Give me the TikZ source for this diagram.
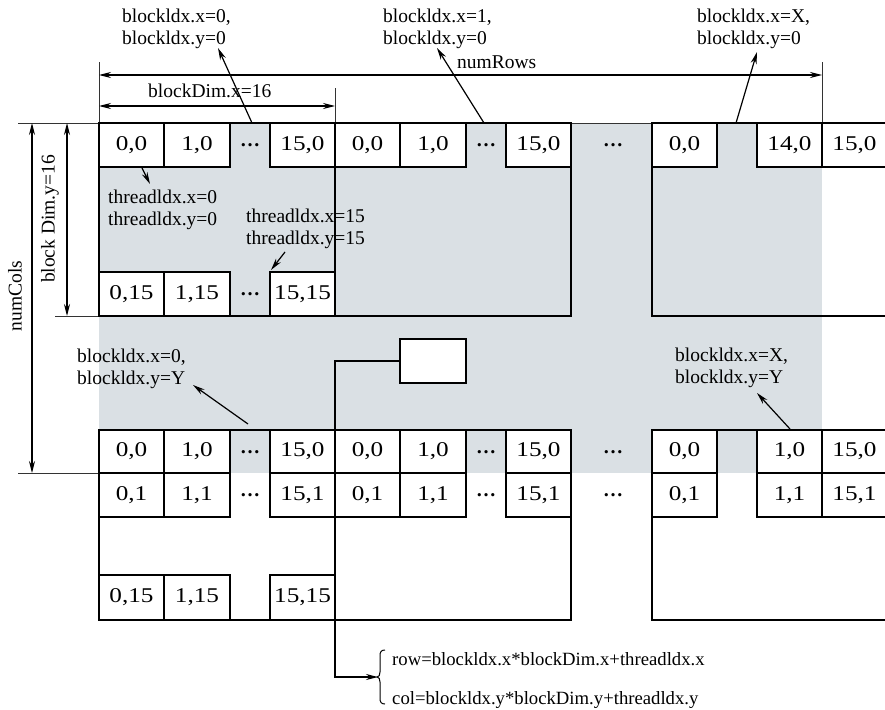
\documentclass[tikz,border=0pt]{standalone}
\usepackage{fontspec}
\setmainfont{Liberation Serif}
\newfontfamily\cellfont[FakeStretch=1.2]{Liberation Serif}
\usetikzlibrary{arrows.meta}
\definecolor{gridbg}{RGB}{218,224,228}

% one thread cell: name, left, right, top, bottom, text
\newcommand\cellbox[6]{%
  \node[cell, minimum width={#3-#2}, minimum height={#5-#4}] (#1) at ({(#2+#3)/2},{(#4+#5)/2}) {#6};}
% ellipsis marker: name, x, y
\newcommand\skipmark[3]{\node[dots] (#1) at (#2,#3) {\textbf{\char"2026}};}

\begin{document}
\begin{tikzpicture}[x=1pt,y=-1pt,
  cell/.style={draw=black, fill=white, line width=1.6pt, inner sep=0pt,
    font=\cellfont\fontsize{21}{21}\selectfont},
  blk/.style={draw=black, line width=1.6pt},
  lbl/.style={font=\fontsize{19.5}{21.5}\selectfont, align=left, inner sep=0pt},
  fml/.style={font=\fontsize{18.7}{21}\selectfont, inner sep=0pt},
  ptr/.style={line width=1.2pt, -{Stealth[length=12pt,width=6pt]}},
  dimline/.style={line width=1.2pt, {Stealth[length=12pt,width=6pt]}-{Stealth[length=12pt,width=6pt]}},
  ext/.style={line width=0.8pt, draw=black!80},
  dots/.style={font=\fontsize{20}{20}\selectfont, inner sep=0pt}
]
\useasboundingbox (0,0) rectangle (885,709);

% shaded grid area
\fill[gridbg] (99,123) rectangle (822,473);

% reference lines
\draw[ext] (18,123) -- (885,123);
\draw[ext] (55,316) -- (99,316);
\draw[ext] (18,473) -- (99,473);
\draw[ext] (99,62) -- (99,123);
\draw[ext] (822,62) -- (822,123);
\draw[ext] (335,88) -- (335,123);

% dimension arrows
\coordinate (nrL) at (99,75);  \coordinate (nrR) at (822,75);
\coordinate (bdL) at (99,106); \coordinate (bdR) at (335,106);
\coordinate (ncT) at (32,123); \coordinate (ncB) at (32,473);
\coordinate (byT) at (67,123); \coordinate (byB) at (67,316);
\draw[dimline] (nrL) -- (nrR);
\draw[dimline] (bdL) -- (bdR);
\draw[dimline] (ncT) -- (ncB);
\draw[dimline] (byT) -- (byB);
\node[lbl, anchor=base west] (numrows) at (457,68) {numRows};
\node[lbl, anchor=base west] (bdimx) at (148,97) {blockDim.x=16};
\node[lbl, rotate=90] (numcols) at (15,296) {numCols};
\node[lbl, rotate=90] (bdimy) at (50,219) {block Dim.y=16};

% block outlines
\draw[blk] (99,123) rectangle (335,316);
\draw[blk] (335,123) rectangle (571,316);
\draw[blk] (887,123) -- (652,123) -- (652,316) -- (887,316);
\draw[blk] (99,430) rectangle (335,620);
\draw[blk] (335,430) rectangle (571,620);
\draw[blk] (887,430) -- (652,430) -- (652,620) -- (887,620);

% top row of blocks
\cellbox{a00}{99}{164}{123}{167}{0,0}
\cellbox{a10}{164}{230}{123}{167}{1,0}
\cellbox{a150}{270}{335}{123}{167}{15,0}
\cellbox{a015}{99}{164}{272}{316}{0,15}
\cellbox{a115}{164}{230}{272}{316}{1,15}
\cellbox{a1515}{270}{335}{272}{316}{15,15}
\cellbox{b00}{335}{400}{123}{167}{0,0}
\cellbox{b10}{400}{466}{123}{167}{1,0}
\cellbox{b150}{506}{571}{123}{167}{15,0}
\cellbox{c00}{652}{717}{123}{167}{0,0}
\cellbox{c140}{757}{822}{123}{167}{14,0}
\cellbox{c150}{822}{887}{123}{167}{15,0}
\skipmark{ta1}{250}{145}
\skipmark{ta2}{250}{294}
\skipmark{tb1}{486}{145}
\skipmark{tgap}{613}{145}

% bottom row of blocks
\cellbox{d00}{99}{164}{430}{473}{0,0}
\cellbox{d10}{164}{230}{430}{473}{1,0}
\cellbox{d150}{270}{335}{430}{473}{15,0}
\cellbox{d01}{99}{164}{473}{517}{0,1}
\cellbox{d11}{164}{230}{473}{517}{1,1}
\cellbox{d151}{270}{335}{473}{517}{15,1}
\cellbox{d015}{99}{164}{575}{620}{0,15}
\cellbox{d115}{164}{230}{575}{620}{1,15}
\cellbox{d1515}{270}{335}{575}{620}{15,15}
\cellbox{e00}{335}{400}{430}{473}{0,0}
\cellbox{e10}{400}{466}{430}{473}{1,0}
\cellbox{e150}{506}{571}{430}{473}{15,0}
\cellbox{e01}{335}{400}{473}{517}{0,1}
\cellbox{e11}{400}{466}{473}{517}{1,1}
\cellbox{e151}{506}{571}{473}{517}{15,1}
\cellbox{f00}{652}{717}{430}{473}{0,0}
\cellbox{f10}{757}{822}{430}{473}{1,0}
\cellbox{f150}{822}{887}{430}{473}{15,0}
\cellbox{f01}{652}{717}{473}{517}{0,1}
\cellbox{f11}{757}{822}{473}{517}{1,1}
\cellbox{f151}{822}{887}{473}{517}{15,1}
\skipmark{bd1}{250}{452}
\skipmark{bd2}{250}{495}
\skipmark{be1}{486}{452}
\skipmark{be2}{486}{495}
\skipmark{bgap1}{613}{452}
\skipmark{bgap2}{613}{495}

% block and thread index labels
\node[lbl, anchor=north west] (blk00) at (122,9) {blockldx.x=0,\\blockldx.y=0};
\node[lbl, anchor=north west] (blk10) at (383,9) {blockldx.x=1,\\blockldx.y=0};
\node[lbl, anchor=north west] (blkX0) at (697,9) {blockldx.x=X,\\blockldx.y=0};
\node[lbl, anchor=north west] (blk0Y) at (77,349) {blockldx.x=0,\\blockldx.y=Y};
\node[lbl, anchor=north west] (blkXY) at (675,348) {blockldx.x=X,\\blockldx.y=Y};
\node[lbl, anchor=north west] (thr00) at (108,190) {threadldx.x=0\\threadldx.y=0};
\node[lbl, anchor=north west] (thr1515) at (246,209) {threadldx.x=15\\threadldx.y=15};

\coordinate (p1s) at (252,123); \coordinate (p1e) at (218,48);
\coordinate (p2s) at (484,123); \coordinate (p2e) at (437,48);
\coordinate (p3s) at (736,123); \coordinate (p3e) at (757,52);
\coordinate (p4s) at (248,424); \coordinate (p4e) at (193,385);
\coordinate (p5s) at (790,429); \coordinate (p5e) at (757,393);
\coordinate (p6s) at (142,168); \coordinate (p6e) at (150,184);
\coordinate (p7s) at (285,252); \coordinate (p7e) at (271,270);
\draw[ptr] (p1s) -- (p1e);
\draw[ptr] (p2s) -- (p2e);
\draw[ptr] (p3s) -- (p3e);
\draw[ptr] (p4s) -- (p4e);
\draw[ptr] (p5s) -- (p5e);
\draw[ptr] (p6s) -- (p6e);
\draw[ptr] (p7s) -- (p7e);

% index formula fed from the small box
\node[draw=black, fill=white, line width=1.6pt, minimum width=66, minimum height=44, inner sep=0pt] (probe) at (433,361) {};
\coordinate (bend) at (335,361);
\coordinate (tip) at (378,677);
\draw[ptr] (probe.west) -- (bend) |- (tip);
\draw[line width=1pt] (385,650) .. controls (381,650) and (380,652) .. (380,656)
  -- (380,672) .. controls (380,675) and (379,677) .. (377,677)
  .. controls (379,677) and (380,679) .. (380,682)
  -- (380,698) .. controls (380,702) and (381,704) .. (385,704);
\node[fml, anchor=base west] (rowf) at (392,665) {row=blockldx.x*blockDim.x+threadldx.x};
\node[fml, anchor=base west] (colf) at (392,704) {col=blockldx.y*blockDim.y+threadldx.y};
\end{tikzpicture}
\end{document}
